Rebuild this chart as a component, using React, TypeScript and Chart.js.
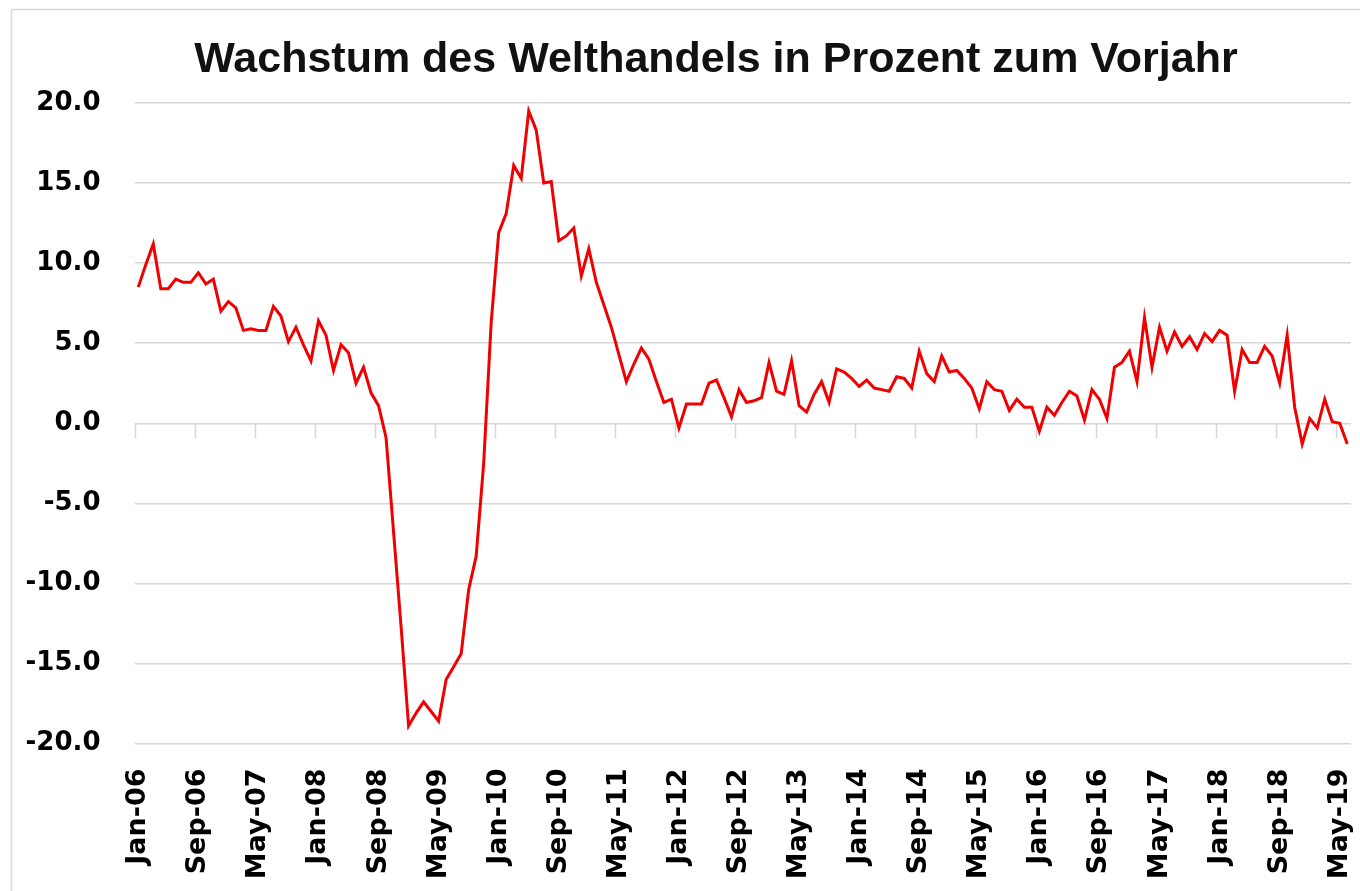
import { useEffect, useRef } from "react";
import { Chart, registerables } from "chart.js";

Chart.register(...registerables);

const TITLE = "Wachstum des Welthandels in Prozent zum Vorjahr";
const MONTHS = ["Jan", "Feb", "Mar", "Apr", "May", "Jun", "Jul", "Aug", "Sep", "Oct", "Nov", "Dec"];
const YEARS = ["06", "07", "08", "09", "10", "11", "12", "13", "14", "15", "16", "17", "18", "19"];
const LABEL_EVERY = 8;

// Year-on-year growth of world trade, monthly Jan-06 .. Jun-19 (%)
const VALUES = [
  8.5, 9.9, 11.2, 8.4, 8.4, 9.0, 8.8, 8.8, 9.4, 8.7, 9.0, 7.0,
  7.6, 7.2, 5.8, 5.9, 5.8, 5.8, 7.3, 6.7, 5.1, 6.0, 4.9, 3.9,
  6.4, 5.5, 3.3, 4.9, 4.4, 2.5, 3.5, 1.9, 1.1, -0.9, -6.8, -12.7,
  -18.9, -18.1, -17.4, -18.0, -18.6, -16.0, -15.2, -14.4, -10.4, -8.3, -2.5, 6.3,
  11.9, 13.1, 16.1, 15.3, 19.5, 18.3, 15.0, 15.1, 11.4, 11.7, 12.2, 9.2,
  10.9, 8.8, 7.4, 6.0, 4.3, 2.6, 3.7, 4.7, 4.0, 2.6, 1.3, 1.5,
  -0.3, 1.2, 1.2, 1.2, 2.5, 2.7, 1.6, 0.4, 2.1, 1.3, 1.4, 1.6,
  3.8, 2.0, 1.8, 3.9, 1.1, 0.7, 1.8, 2.6, 1.3, 3.4, 3.2, 2.8,
  2.3, 2.7, 2.2, 2.1, 2.0, 2.9, 2.8, 2.2, 4.5, 3.1, 2.6, 4.2,
  3.2, 3.3, 2.8, 2.2, 0.9, 2.6, 2.1, 2.0, 0.8, 1.5, 1.0, 1.0,
  -0.5, 1.0, 0.5, 1.3, 2.0, 1.7, 0.2, 2.1, 1.5, 0.3, 3.5, 3.8,
  4.5, 2.6, 6.6, 3.5, 6.0, 4.5, 5.7, 4.8, 5.4, 4.6, 5.6, 5.1,
  5.8, 5.5, 2.0, 4.6, 3.8, 3.8, 4.8, 4.2, 2.5, 5.5, 1.0, -1.3,
  0.3, -0.3, 1.5, 0.1, 0.0, -1.3,
];

const LABELS: string[] = [];
for (const y of YEARS) {
  for (const m of MONTHS) {
    if (LABELS.length < VALUES.length) LABELS.push(`${m}-${y}`);
  }
}

const GRID = "#d6d6d6";
const RED = "#f00000";
const TICK_FONT = "DejaVu Sans";

const framePlugin = {
  id: "frame",
  beforeDraw(chart: any) {
    const ctx = chart.ctx;
    ctx.save();
    ctx.fillStyle = "#ffffff";
    ctx.fillRect(0, 0, chart.width, chart.height);
    ctx.strokeStyle = "#d9d9d9";
    ctx.lineWidth = 1.5;
    ctx.strokeRect(11.5, 9.5, 1500, 1000);
    ctx.restore();
  },
};

const titlePlugin = {
  id: "titleText",
  afterDraw(chart: any) {
    const ctx = chart.ctx;
    ctx.save();
    ctx.fillStyle = "#111111";
    ctx.font = "bold 43px 'Liberation Sans', Arial, sans-serif";
    ctx.textAlign = "center";
    ctx.textBaseline = "alphabetic";
    ctx.fillText(TITLE, 716, 72);
    ctx.restore();
  },
};

const zeroAxisPlugin = {
  id: "zeroAxis",
  beforeDatasetsDraw(chart: any) {
    const ctx = chart.ctx;
    const xs = chart.scales.x;
    const ys = chart.scales.y;
    const y0 = ys.getPixelForValue(0);
    const half = (xs.getPixelForValue(1) - xs.getPixelForValue(0)) / 2;
    ctx.save();
    ctx.strokeStyle = GRID;
    ctx.lineWidth = 1.5;
    ctx.beginPath();
    for (let i = 0; i < LABELS.length; i += LABEL_EVERY) {
      const px = Math.round(xs.getPixelForValue(i) - half) + 0.5;
      ctx.moveTo(px, y0);
      ctx.lineTo(px, y0 + 15);
    }
    ctx.stroke();
    ctx.restore();
  },
};

export default function App() {
  const ref = useRef<HTMLCanvasElement | null>(null);

  useEffect(() => {
    if (!ref.current) return;
    const chart = new Chart(ref.current, {
      type: "line",
      data: {
        labels: LABELS,
        datasets: [
          {
            data: VALUES,
            borderColor: RED,
            borderWidth: 3,
            pointRadius: 0,
            tension: 0,
            fill: false,
          },
        ],
      },
      options: {
        animation: false,
        responsive: false,
        maintainAspectRatio: false,
        layout: { padding: { left: 25, right: 9, top: 103, bottom: 10 } },
        plugins: {
          legend: { display: false },
          tooltip: { enabled: false },
          title: { display: false },
        },
        scales: {
          x: {
            type: "category",
            offset: true,
            grid: { display: false, drawTicks: false },
            border: { display: false },
            afterFit: (s: any) => {
              s.height = 137.5;
              s.paddingLeft = 0;
              s.paddingRight = 0;
            },
            ticks: {
              autoSkip: false,
              maxRotation: 90,
              minRotation: 90,
              padding: 25,
              color: "#000000",
              font: { family: TICK_FONT, weight: "bold", size: 27 },
              callback: (_v: any, i: number) => (i % LABEL_EVERY === 0 ? LABELS[i] : null),
            },
          },
          y: {
            min: -20,
            max: 20,
            grid: { color: GRID, lineWidth: 1.5, drawTicks: false },
            border: { display: false },
            afterFit: (s: any) => {
              s.width = 109.5;
              s.paddingTop = 0;
              s.paddingBottom = 0;
            },
            ticks: {
              stepSize: 5,
              padding: 34,
              color: "#000000",
              font: { family: TICK_FONT, weight: "bold", size: 26 },
              callback: (v: any) => Number(v).toFixed(1),
            },
          },
        },
      },
      plugins: [framePlugin, titlePlugin, zeroAxisPlugin],
    } as any);
    return () => chart.destroy();
  }, []);

  return (
    <div style={{ position: "absolute", left: 0, top: 0, width: 1360, height: 891 }}>
      <canvas ref={ref} width={1360} height={891} style={{ display: "block", width: 1360, height: 891 }} />
    </div>
  );
}
